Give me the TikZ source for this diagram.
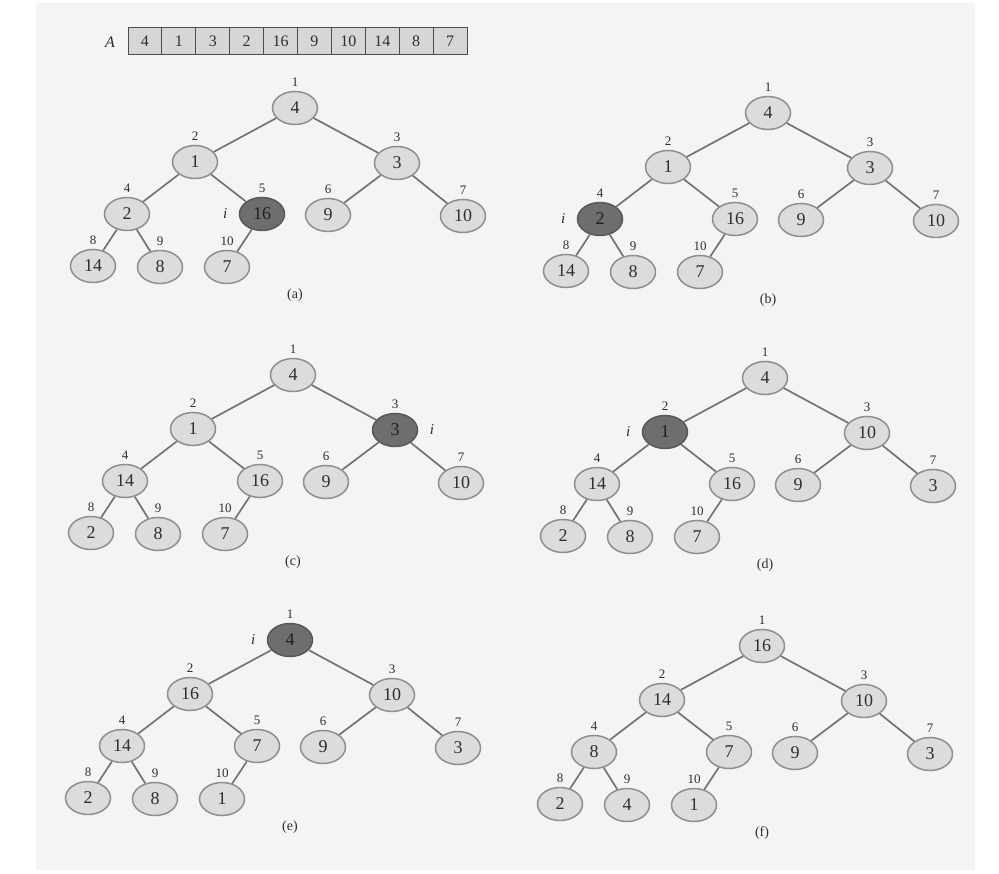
\documentclass[tikz,border=0pt]{standalone}
\usepackage{fontspec}
\setmainfont{Liberation Serif}
\usetikzlibrary{shapes.geometric,positioning}
\definecolor{panelbg}{HTML}{F4F4F4}
\definecolor{nodefill}{HTML}{DCDCDC}
\definecolor{nodedraw}{HTML}{8E8E8E}
\definecolor{darkfill}{HTML}{6E6E6E}
\definecolor{edgecol}{HTML}{737373}
\definecolor{txtcol}{HTML}{2E2E2E}
\definecolor{cellfill}{HTML}{D6D6D6}
\tikzset{
  heapnode/.style={ellipse,draw=nodedraw,line width=1.5pt,fill=nodefill,minimum width=45pt,minimum height=33pt,inner sep=0pt,text=txtcol,font=\fontsize{18}{18}\selectfont},
  darknode/.style={heapnode,fill=darkfill,draw=darkfill!80!black,text=txtcol!70!black},
  idx/.style={anchor=south,inner sep=0pt,text=txtcol,font=\fontsize{13}{13}\selectfont},
  edge/.style={draw=edgecol,line width=1.7pt},
  capt/.style={text=txtcol,font=\fontsize{14}{14}\selectfont},
  ilab/.style={text=txtcol,font=\fontsize{15}{15}\selectfont\itshape},
  cell/.style={rectangle,draw=black!70,line width=1pt,fill=cellfill,minimum width=33.9pt,minimum height=27pt,inner sep=0pt,text=txtcol,font=\fontsize{16}{16}\selectfont},
}
\newcommand\heaptree[6]{%
  \begin{scope}[shift={(#2,#3)}]
    \def\vals{#4}%
    \foreach \n/\px/\py in {1/0/0,2/-100/54,3/102/55,4/-168/106,5/-33/106,6/33/107,7/168/108,8/-202/158,9/-135/159,10/-68/159}{%
      \pgfmathtruncatemacro\v{\vals[\n-1]}%
      \ifnum\n=#5\relax\def\st{darknode}\else\def\st{heapnode}\fi
      \node[\st] (#1\n) at (\px,\py) {\v};
      \node[idx] (#1l\n) at ([yshift=4pt]#1\n.north) {\n};
    }
    \foreach \a/\b in {1/2,1/3,2/4,2/5,3/6,3/7,4/8,4/9,5/10}{%
      \draw[edge] (#1\a) -- (#1\b);
    }
    \node[capt] (#1cap) at (0,187) {#6};
  \end{scope}}
\begin{document}
\begin{tikzpicture}[x=1pt,y=-1pt]
\useasboundingbox (0,0) rectangle (999,874);
\fill[white] (0,0) rectangle (999,874);
\fill[panelbg] (36,3) rectangle (975,870);
% array
\node[ilab,font=\fontsize{16}{16}\selectfont\itshape] (Alab) at (110,42) {A};
\foreach \v [count=\k] in {4,1,3,2,16,9,10,14,8,7}{
  \node[cell] (cell\k) at ({128+33.9*(\k-0.5)},41.5) {\v};
}
\heaptree{a}{295}{108}{{4,1,3,2,16,9,10,14,8,7}}{5}{(a)}
\heaptree{b}{768}{113}{{4,1,3,2,16,9,10,14,8,7}}{4}{(b)}
\heaptree{c}{293}{375}{{4,1,3,14,16,9,10,2,8,7}}{3}{(c)}
\heaptree{d}{765}{378}{{4,1,10,14,16,9,3,2,8,7}}{2}{(d)}
\heaptree{e}{290}{640}{{4,16,10,14,7,9,3,2,8,1}}{1}{(e)}
\heaptree{f}{762}{646}{{16,14,10,8,7,9,3,2,4,1}}{0}{(f)}
\node[ilab,left=8pt of a5] (ai) {i};
\node[ilab,left=8pt of b4] (bi) {i};
\node[ilab,right=8pt of c3] (ci) {i};
\node[ilab,left=8pt of d2] (di) {i};
\node[ilab,left=8pt of e1] (ei) {i};
\end{tikzpicture}
\end{document}
